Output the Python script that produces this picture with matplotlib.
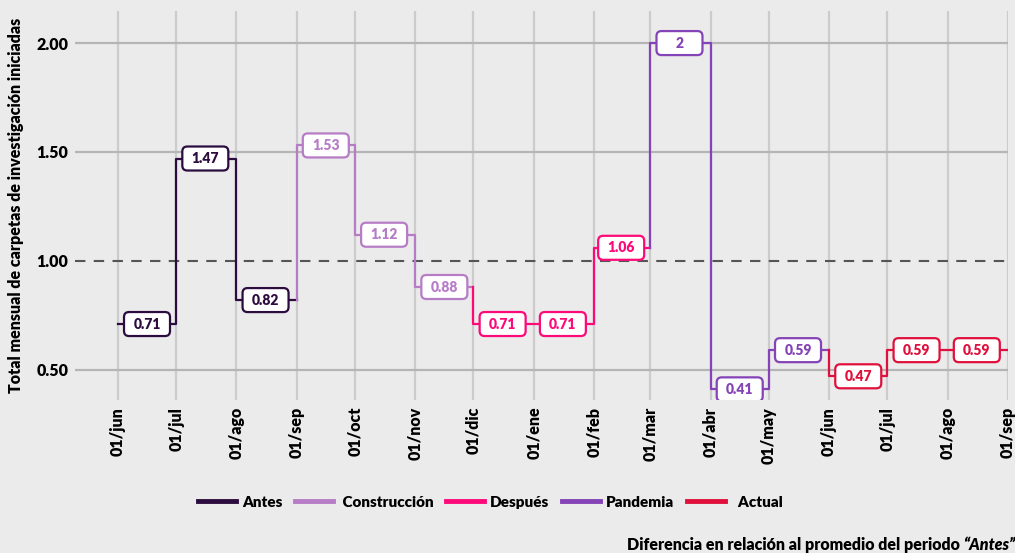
import datetime as dt
import matplotlib
matplotlib.use("Agg")
import matplotlib.pyplot as plt
import matplotlib.transforms as mtransforms
from matplotlib.patches import FancyBboxPatch
from matplotlib.lines import Line2D

# monthly values, each series covers three months
months = [dt.date(2019, 6, 1), dt.date(2019, 7, 1), dt.date(2019, 8, 1),
          dt.date(2019, 9, 1), dt.date(2019, 10, 1), dt.date(2019, 11, 1),
          dt.date(2019, 12, 1), dt.date(2020, 1, 1), dt.date(2020, 2, 1),
          dt.date(2020, 3, 1), dt.date(2020, 4, 1), dt.date(2020, 5, 1),
          dt.date(2020, 6, 1), dt.date(2020, 7, 1), dt.date(2020, 8, 1),
          dt.date(2020, 9, 1)]
month_labels = ["01/jun", "01/jul", "01/ago", "01/sep", "01/oct", "01/nov",
                "01/dic", "01/ene", "01/feb", "01/mar", "01/abr", "01/may",
                "01/jun", "01/jul", "01/ago", "01/sep"]

series_names = ["Antes", " Construcción", "Después", "Pandemia", "  Actual"]
antes = [0.71, 1.47, 0.82]
construccion = [1.53, 1.12, 0.88]
despues = [0.71, 0.71, 1.06]
pandemia = [2.0, 0.41, 0.59]
actual = [0.47, 0.59, 0.59]
series_values = [antes, construccion, despues, pandemia, actual]
label_texts = [["0.71", "1.47", "0.82"], ["1.53", "1.12", "0.88"],
               ["0.71", "0.71", "1.06"], ["2", "0.41", "0.59"],
               ["0.47", "0.59", "0.59"]]
colors = ["#2c0c3f", "#b67cc6", "#fb0a78", "#8443b6", "#e0103c"]

BG = "#ebebeb"
plt.rcParams["font.family"] = ["Lato", "DejaVu Sans"]
plt.rcParams["font.weight"] = "bold"

fig = plt.figure(figsize=(10.15, 5.53), dpi=100, facecolor=BG)
ax = fig.add_axes([0.074, 0.277, 0.919, 0.703], facecolor=BG)

# grid
for m in months:
    ax.axvline(m, color="#cccccc", lw=1.6, zorder=0)
for yv in [0.5, 1.5, 2.0]:
    ax.axhline(yv, color="#b5b5b5", lw=1.6, zorder=0.5)
ax.axhline(1.0, color="#555555", lw=1.5, ls=(0, (5, 4)), zorder=0.6)

box_w, box_h = 0.46, 0.24  # inches
prev = None
for k, (vals, col, texts) in enumerate(zip(series_values, colors, label_texts)):
    i0 = 3 * k
    xs = months[i0:i0 + 4]
    ys = list(vals) + [vals[-1]]
    if prev is not None:
        xs = [months[i0]] + xs
        ys = [prev] + ys
    ax.step(xs, ys, where="post", color=col, lw=1.6, zorder=2)
    prev = vals[-1]
    for j, (v, t) in enumerate(zip(vals, texts)):
        a = months[i0 + j]
        b = months[i0 + j + 1]
        mid = a + (b - a) / 2
        tr = fig.dpi_scale_trans + mtransforms.ScaledTranslation(
            ax.convert_xunits(mid), v, ax.transData)
        patch = FancyBboxPatch((-box_w / 2, -box_h / 2), box_w, box_h,
                               boxstyle="round,pad=0,rounding_size=0.05",
                               fc="white", ec=col, lw=1.6, transform=tr,
                               zorder=3)
        ax.add_patch(patch)
        ax.text(mid, v, t, ha="center", va="center", fontsize=10,
                fontweight="heavy", color=col, zorder=4)

ax.set_xlim(dt.date(2019, 5, 10), dt.date(2020, 9, 1))
ax.set_ylim(0.362, 2.147)

ax.set_xticks(months)
ax.set_xticklabels(month_labels, rotation=90, fontsize=11.5, fontweight="heavy")
ax.set_yticks([0.5, 1.0, 1.5, 2.0])
ax.set_yticklabels(["0.50", "1.00", "1.50", "2.00"], fontsize=11.5,
                   fontweight="heavy")
ax.tick_params(length=0, pad=5)
for s in ax.spines.values():
    s.set_visible(False)
ax.set_ylabel("Total mensual de carpetas de investigación iniciadas",
              fontsize=11.5, fontweight="heavy", labelpad=9)

handles = [Line2D([0], [0], color=c, lw=3.5) for c in colors]
fig.legend(handles, series_names, loc="center", bbox_to_anchor=(0.483, 0.092),
           ncol=5, frameon=False, handlelength=2.5, columnspacing=0.8,
           handletextpad=0.4, prop={"weight": "heavy", "size": 11})

fig.canvas.draw()
r = fig.canvas.get_renderer()
t2 = fig.text(1015 / 1015, 0.0, "\u201cAntes\u201d", ha="right", va="bottom",
              fontsize=11.5, fontweight="heavy", style="italic")
bb = t2.get_window_extent(renderer=r)
fig.text((bb.x0 - 3) / fig.bbox.width, 0.0,
         "Diferencia en relación al promedio del periodo", ha="right",
         va="bottom", fontsize=11.5, fontweight="heavy")

fig.savefig("out.png", dpi=100, facecolor=BG)
